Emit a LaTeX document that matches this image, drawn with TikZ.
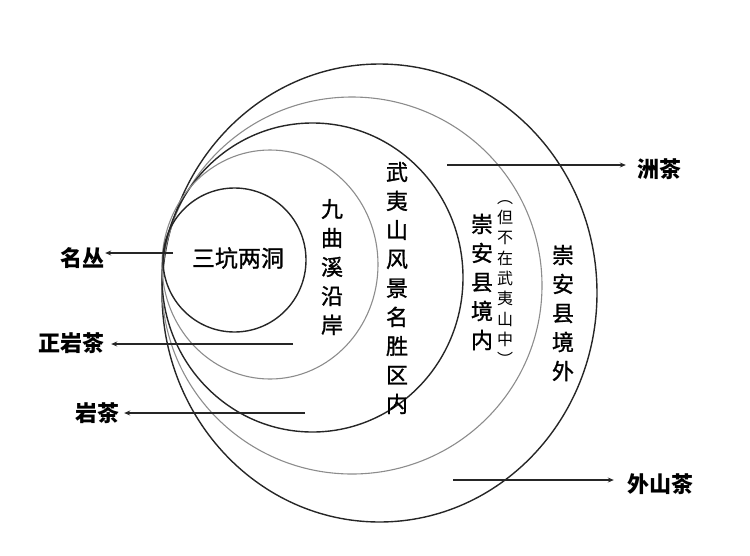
\documentclass[tikz,border=0pt]{standalone}
\usepackage{fontspec}
\newfontfamily\cjk{Noto Sans CJK SC}
\newfontfamily\cjkm[FakeBold=1.2]{Noto Sans CJK SC}
\usetikzlibrary{arrows.meta}
\begin{document}
\begin{tikzpicture}[x=1pt,y=-1pt,
  darkc/.style={draw=black!85, line width=1.4pt},
  lightc/.style={draw=black!45, line width=1.1pt},
  arr/.style={draw=black!85, line width=1.3pt, -{Stealth[length=6pt,width=5pt]}},
  lbl/.style={font=\cjk\bfseries\fontsize{22}{26}\selectfont, inner sep=1pt},
  vtxt/.style={font=\cjkm\fontsize{22}{29}\selectfont, align=center, inner sep=0pt},
  stxt/.style={font=\cjk\fontsize{16}{20.3}\selectfont, align=center, inner sep=0pt}]
\useasboundingbox (0,0) rectangle (750,555);
% circles
\draw[darkc]  (379.5,293) ellipse [x radius=217.5pt, y radius=229pt];
\draw[lightc] (352,285.5) ellipse [x radius=190pt, y radius=188.5pt];
\draw[darkc]  (312.5,277.5) ellipse [x radius=150.5pt, y radius=154.5pt];
\draw[lightc] (270,264.5) ellipse [x radius=108pt, y radius=114.5pt];
\draw[darkc]  (234.5,260) ellipse [x radius=71.5pt, y radius=72pt];
% texts in circles
\node[font=\cjkm\fontsize{23}{26}\selectfont, inner sep=0pt] (sk) at (238,258) {三坑两洞};
\node[vtxt] (jq) at (332,267) {九\\曲\\溪\\沿\\岸};
\node[vtxt] (wy) at (397,288) {武\\夷\\山\\风\\景\\名\\胜\\区\\内};
\node[vtxt] (an) at (482,282) {崇\\安\\县\\境\\内};
\node[stxt] (bz) at (505,283) {︵\\但\\不\\在\\武\\夷\\山\\中\\︶};
\node[vtxt] (aw) at (563,313) {崇\\安\\县\\境\\外};
% outer labels
\node[lbl] (mc) at (82,258) {名丛};
\node[lbl] (zy) at (71,343) {正岩茶};
\node[lbl] (yc) at (97,413) {岩茶};
\node[lbl] (zc) at (659,169) {洲茶};
\node[lbl] (ws) at (660,484) {外山茶};
% arrows
\coordinate (s1) at (173,253);
\coordinate (s2) at (293,344);
\coordinate (s3) at (305,413);
\coordinate (s4) at (447,165);
\coordinate (s5) at (453,480);
\draw[arr] (s1) -- (s1 -| mc.east);
\draw[arr] (s2) -- ([xshift=6pt]s2 -| zy.east);
\draw[arr] (s3) -- ([xshift=4pt]s3 -| yc.east);
\draw[arr] (s4) -- ([xshift=-10pt]s4 -| zc.west);
\draw[arr] (s5) -- ([xshift=-12pt]s5 -| ws.west);
\end{tikzpicture}
\end{document}
